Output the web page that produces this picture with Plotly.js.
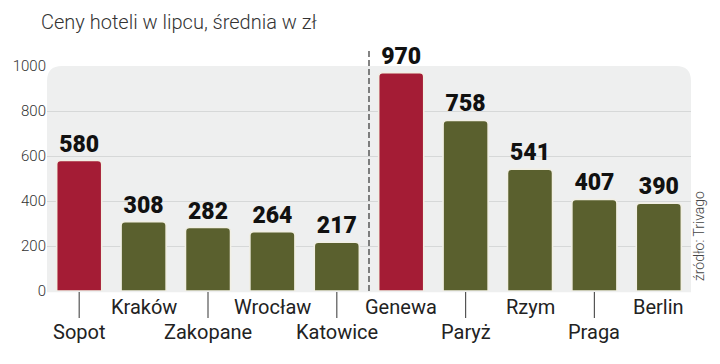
<!DOCTYPE html>
<html>
<head>
<meta charset="utf-8">
<script src="https://cdn.plot.ly/plotly-3.0.1.min.js"></script>
<style>html,body{margin:0;padding:0;background:#fff}#chart{width:720px;height:364px}</style>
</head>
<body>
<div id="chart"></div>
<script>
const categories = ['Sopot','Kraków','Zakopane','Wrocław','Katowice','Genewa','Paryż','Rzym','Praga','Berlin'];
const values = [580,308,282,264,217,970,758,541,407,390];
const highlighted = ['Sopot','Genewa'];
const yTicks = [0,200,400,600,800,1000];
const titleText = 'Ceny hoteli w lipcu, średnia w zł';
const sourceText = 'źródło: Trivago';

const RED = '#a41c35', OLIVE = '#5a602e';
const idx = categories.map((c,i)=>i);
const colors = categories.map(c => highlighted.includes(c) ? RED : OLIVE);

const trace = {
  type:'bar', x: idx, y: values,
  width: 0.7,
  marker:{color: colors, cornerradius: 4, line:{color:'#f1efe4', width:1.6}},
  text: values.map(String), textposition:'outside', cliponaxis:false,
  textfont:{family:'Roboto, sans-serif', size:23, weight:900, color:'#111'},
  hoverinfo:'skip'
};

// rounded background panel in paper coords
const W = 644, H = 225, R = 15;
const rx = R/W, ry = R/H;
const bg = `M 0 -0.005 L 0 ${1-ry} Q 0 1 ${rx} 1 L ${1-rx} 1 Q 1 1 1 ${1-ry} L 1 -0.005 Z`;

const shapes = [
  {type:'path', path: bg, xref:'paper', yref:'paper', fillcolor:'#eeefef', line:{width:0}, layer:'below'},
  {type:'line', xref:'x', yref:'paper', x0:4.5, x1:4.5, y0:0, y1:1.075, line:{color:'#333', width:1.2, dash:'6px,3px'}}
];
const annotations = [];
categories.forEach((c,i)=>{
  const low = i % 2 === 0;
  if (low) {
    shapes.push({type:'line', xref:'x', yref:'paper', x0:i, x1:i, y0:-1/H, y1:-27/H, line:{color:'#555', width:1.2}});
  }
  annotations.push({x:i, y:0, xref:'x', yref:'y', text:c, showarrow:false, yanchor:'middle', yshift: low ? -41 : -16,
    font:{family:'Roboto, sans-serif', size:20, color:'#222'}});
});
annotations.push({x:0, xref:'paper', xshift:-8, y:1, yref:'paper', yshift:44, yanchor:'middle', xanchor:'left', text:titleText, showarrow:false,
  font:{family:'Roboto, sans-serif', size:20, weight:300, color:'#333'}});
annotations.push({x:1.0124, xref:'paper', y:0.244, yref:'paper', xanchor:'center', yanchor:'middle', text:sourceText, textangle:-90, showarrow:false,
  font:{family:'Roboto, sans-serif', size:14, weight:300, color:'#444'}});

const layout = {
  width:720, height:364,
  margin:{l:47, r:29, t:66, b:73},
  paper_bgcolor:'#fff', plot_bgcolor:'rgba(0,0,0,0)',
  showlegend:false,
  xaxis:{range:[-0.5,9.5], showticklabels:false, showgrid:false, zeroline:false, fixedrange:true},
  yaxis:{range:[0,1000], tickvals:yTicks, ticktext:yTicks.map(String), showgrid:true, gridcolor:'#d6d8d8', gridwidth:1,
    zeroline:false, ticks:'', ticklabelstandoff:0,
    tickfont:{family:'Roboto, sans-serif', size:15, weight:300, color:'#333'}},
  shapes, annotations
};
Plotly.newPlot('chart',[trace],layout,{staticPlot:true});
</script>
</body>
</html>
